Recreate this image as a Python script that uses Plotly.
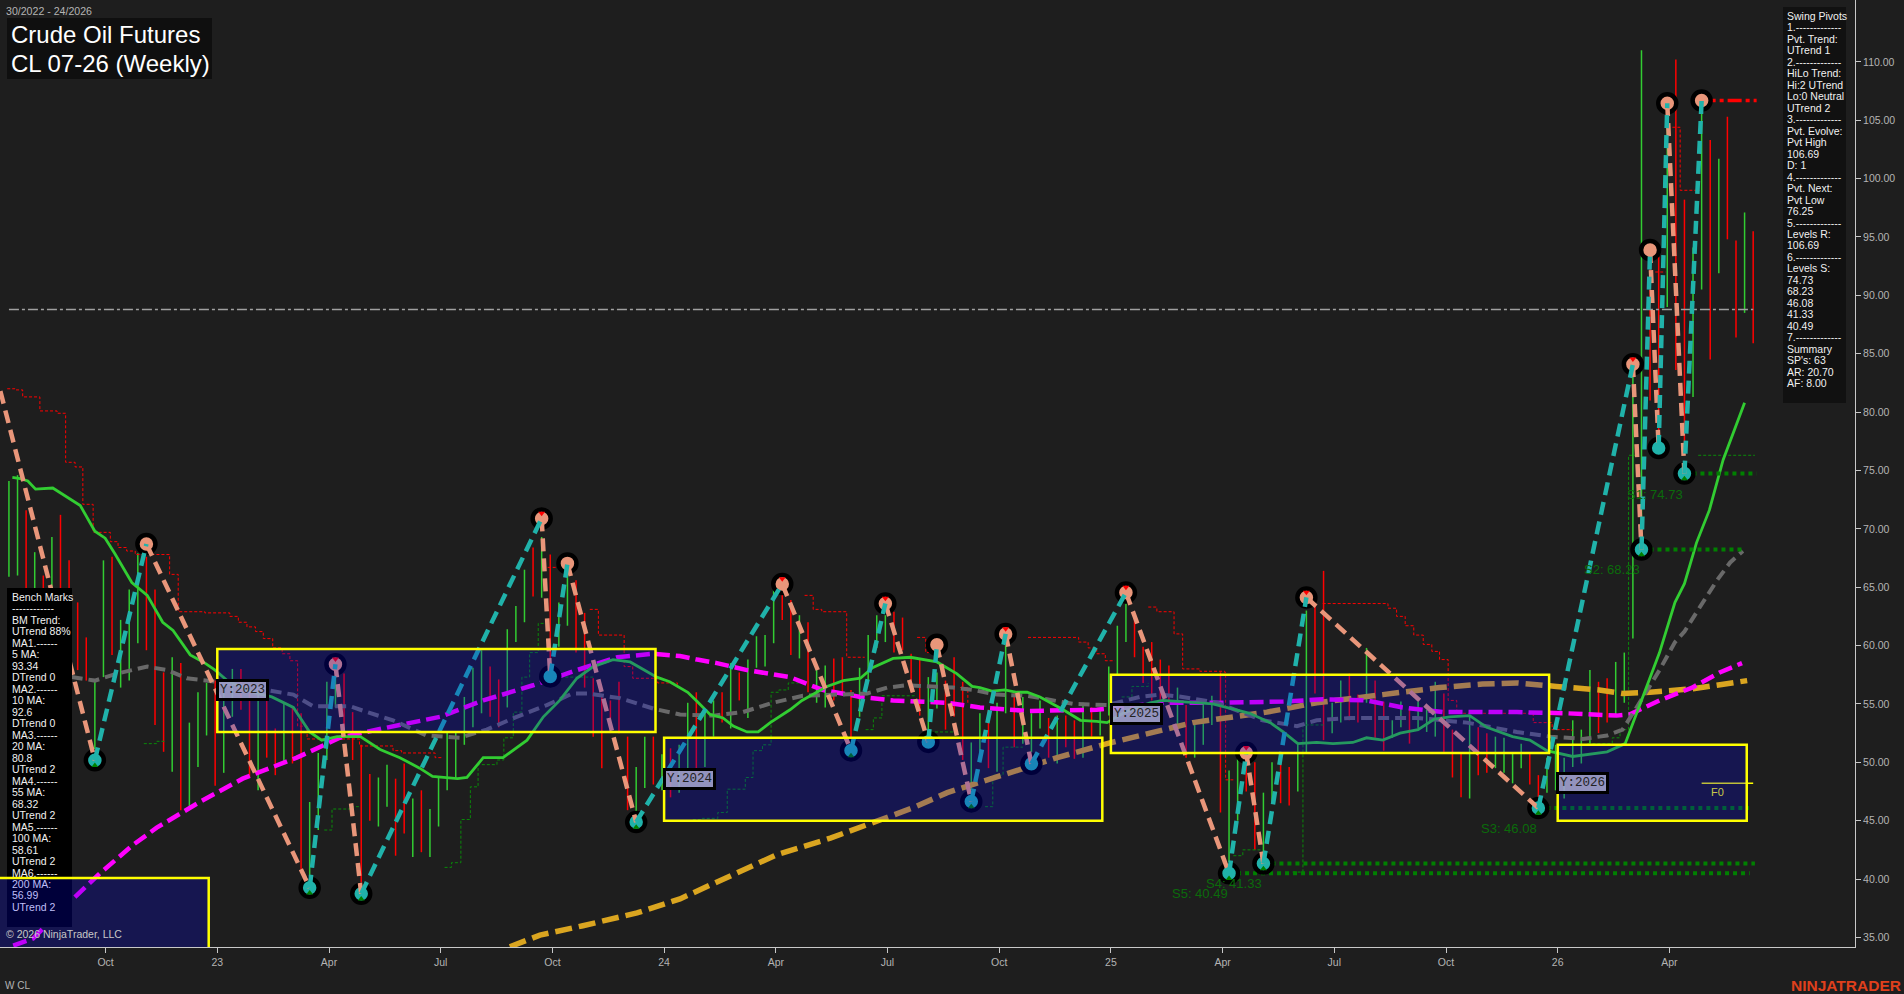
import plotly.graph_objects as go

W, H = 1904, 994
PLOT_W, PLOT_H = 1855, 947
BG = "#1e1e1e"
FIRST_BAR = -11

# ---------- weekly bars (first bar is index FIRST_BAR) ----------
bar_high = [
    74.1,74.6,71.6,68.0,66.0,69.3,71.2,67.3,63.7,60.7,
    57.0,67.3,67.6,62.2,64.8,67.9,67.6,64.8,57.7,59.0,
    58.5,53.4,56.0,56.8,57.0,57.0,58.0,58.0,56.1,56.4,
    57.0,52.9,55.1,54.7,54.2,46.6,50.8,56.9,57.6,57.6,
    54.3,51.5,49.0,48.7,49.8,48.6,49.9,46.9,47.6,46.0,
    48.7,52.6,52.6,55.6,58.1,59.6,58.2,57.1,61.4,63.4,
    66.5,68.4,69.3,67.8,63.7,66.5,65.6,62.8,57.2,55.6,
    55.3,56.9,52.2,49.6,52.2,52.2,50.7,51.2,51.5,55.1,
    56.0,54.3,55.3,56.0,58.5,57.7,58.8,60.8,60.9,64.8,
    64.5,63.9,62.6,62.0,58.1,58.3,58.9,59.0,56.2,58.1,
    60.9,62.6,62.6,62.9,62.4,59.3,58.8,57.3,57.7,57.0,
    59.0,56.9,51.7,54.2,54.5,55.1,60.6,56.0,55.6,54.2,
    55.3,53.8,54.0,54.0,53.6,55.1,54.7,54.6,58.2,61.7,
    63.6,62.4,59.9,60.3,58.8,58.3,56.4,54.9,53.2,55.3,
    55.7,57.7,49.3,50.3,51.3,50.0,47.4,50.0,50.2,49.6,
    51.7,63.0,63.6,66.4,55.1,57.0,57.6,55.8,59.8,57.0,
    55.2,53.6,55.2,54.6,55.2,54.5,56.9,55.9,52.8,50.8,
    53.9,53.0,52.5,52.2,52.1,50.8,51.6,50.8,48.9,50.4,
    51.5,50.4,53.6,52.8,57.9,56.9,57.2,58.6,59.4,83.4,
    111.0,93.3,93.3,106.5,110.2,98.2,94.1,106.7,103.3,101.7,
    105.3,94.7,97.1,95.5,
]
bar_low = [
    65.9,66.0,61.3,60.4,59.6,60.4,62.2,63.0,57.9,57.0,
    50.4,57.3,59.2,56.4,57.0,60.2,59.6,53.2,50.9,49.2,
    45.9,46.2,49.6,52.3,48.0,49.1,53.9,54.5,48.7,47.6,
    50.4,48.9,49.9,49.9,40.8,39.7,44.2,50.2,54.7,52.5,
    50.2,38.8,45.0,44.5,46.2,42.0,43.9,41.9,42.3,41.9,
    44.5,47.6,48.6,51.5,53.0,54.2,53.9,53.0,54.7,60.3,
    62.0,64.2,64.1,58.2,59.9,61.7,59.4,56.4,52.2,49.5,
    52.5,52.5,45.9,45.3,47.8,48.1,47.6,47.0,47.4,49.5,
    48.7,49.6,52.2,53.4,52.9,55.3,53.8,58.1,58.2,60.2,
    62.2,59.2,58.9,56.0,55.1,54.7,55.3,56.0,52.1,53.9,
    56.8,59.8,60.3,59.4,59.6,56.0,54.0,52.5,54.6,52.8,
    53.9,50.2,47.6,50.0,49.5,49.2,54.2,51.3,51.6,50.9,
    52.9,50.4,49.9,51.3,50.3,50.4,52.2,52.3,54.0,57.5,
    60.3,59.0,56.8,55.3,55.1,55.1,53.2,50.4,50.4,51.5,
    53.2,45.7,41.4,45.0,47.5,42.5,41.9,46.5,46.5,46.3,
    47.5,50.8,55.9,51.9,52.5,53.4,53.6,53.4,55.1,52.1,
    51.0,52.1,53.0,51.6,52.9,52.6,52.2,50.9,48.7,47.0,
    46.9,48.9,49.1,49.5,49.1,48.2,49.5,48.1,47.0,47.4,
    47.6,46.9,49.6,49.9,51.6,52.5,53.4,54.0,55.1,60.6,
    69.0,81.0,77.8,89.0,83.6,76.5,81.3,90.5,84.5,91.9,
    94.8,86.4,88.5,85.9,
]
bar_dir = (
    "GGRGRGRRRR" "GGRGGGRRRG" "RGGGRGGRRG" "RRGRRGGGGR"
    "RRRGGRRGRG" "GGGGGGRRGG" "GRGRGGRRRR" "RRRGGRGRGG"
    "RGGRGRGGGG" "RRGRGGRRRG" "GGGRRRRGGR" "RRGGRGGRGG"
    "GRGRRGRGGG" "GRRRRRGRGG" "GRGGRRGGRR" "GGRRGGRRGR"
    "RGGRGGGRRR" "GRRGGGGRRG" "GGGGGRRGGG" "GRRGRRGGRG"
    "RRGR"
)

# ---------- swing pivots (alternate high / low, first one is a high) ----------
piv_idx = [-12,-1,5,24,27,30,51,52,54,62,79,87,91,96,97,101,105,108,119,131,133,135,140,167,178,179,180,181,182,184,186]
piv_price = [81.8,50.18,68.7,39.26,58.4,38.74,70.89,57.36,67.04,44.88,65.27,51.02,63.6,51.75,60.07,46.65,61.0,49.87,64.54,40.49,50.81,41.33,64.12,46.08,84.1,68.23,93.88,76.92,106.46,74.73,106.69]
tri_high_idx = [27,51,79,91,105,119,133,140,178]
tri_low_idx = [-1,24,30,62,87,101,131,135,167,179,184]

# ---------- moving averages ----------
ma20_x = [-10.6,-9.7,-8.8,-7.9,-5.9,-3.9,-2.7,-1.0,0.2,1.3,3.3,5.1,6.9,8.1,10.1,11.6,13.0,14.4,17.4,19.6,22.1,24.0,25.4,27.2,29.9,32.2,34.5,36.8,38.3,41.2,42.3,44.2,46.5,49.3,51.2,53.1,55.1,57.0,59.3,61.3,64.4,65.9,68.0,69.1,70.6,72.1,73.3,74.9,76.2,77.6,79.9,81.3,84.2,86.1,88.1,89.5,91.9,93.9,97.0,99.3,101.1,102.0,103.4,104.9,106.3,107.5,109.0,111.7,113.7,115.6,116.8,118.9,121.8,123.3,129.1,133.4,135.8,137.3,139.0,141.2,143.1,145.4,147.0,148.9,150.9,153.0,154.9,156.7,159.0,161.0,164.0,166.0,168.0,171.0,175.0,177.1,181.1,182.9,184.0,185.4,186.9,188.5,190.2,191.0]
ma20_y = [74.4,74.3,74.1,73.4,73.5,72.6,72.0,69.8,69.2,67.9,65.4,64.3,62.0,61.3,59.2,58.6,57.9,57.0,56.0,55.6,54.7,52.6,51.9,52.2,52.2,51.1,50.4,49.5,48.8,48.6,48.7,50.4,50.4,51.9,53.9,55.3,57.2,58.2,58.8,58.6,57.3,56.9,56.0,55.2,54.1,53.8,53.1,52.6,52.6,53.4,54.5,55.3,56.5,57.0,57.2,58.1,58.9,59.0,58.6,57.6,56.5,56.4,56.1,56.2,56.0,56.0,55.6,54.5,53.6,53.5,53.4,54.3,55.1,55.3,55.0,54.2,53.4,52.6,51.6,51.7,51.6,51.7,52.1,51.9,52.5,52.8,53.7,53.9,54.0,53.0,52.2,51.9,51.0,50.5,50.9,51.6,59.4,63.7,65.3,68.8,71.6,75.9,79.3,80.8]
ma55_x = [-3.7,-1.0,1.6,5.1,7.4,9.7,13.2,19.0,22.1,24.4,26.7,28.7,30.7,33.7,37.6,41.5,44.6,48.1,51.6,54.6,56.3,60.1,64.0,67.1,71.0,74.4,77.9,81.4,85.4,88.9,91.2,93.5,98.9,101.2,104.0,107.5,109.8,112.9,116.8,120.6,123.0,125.6,129.6,132.6,134.9,138.9,141.2,145.1,152.9,158.7,164.5,168.4,172.2,175.0,176.8,179.2,181.1,182.9,184.0,185.8,187.8,189.3,190.8]
ma55_y = [57.3,57.0,57.6,58.2,57.9,57.2,56.9,56.2,55.8,54.8,54.8,54.8,54.3,53.6,52.3,52.1,52.8,53.9,54.9,55.9,55.9,55.5,54.6,54.1,54.0,54.3,55.1,55.7,55.8,55.9,56.4,56.6,56.4,56.2,55.8,55.7,55.4,55.0,54.9,55.6,55.8,55.6,55.1,54.3,53.6,53.1,53.6,53.8,53.8,53.4,52.6,52.2,52.0,52.3,52.8,55.6,57.9,60.3,61.2,63.3,65.6,67.1,68.1]
ma100_x = [-10.5,-8.2,-3.7,-0.4,3.4,6.2,11.2,16.2,22.5,27.5,32.5,39.2,44.2,50.0,55.1,59.8,64.0,67.1,69.1,71.4,74.9,79.9,83.7,88.1,91.9,98.2,102.0,107.5,115.6,123.3,129.6,137.3,141.9,147.0,151.2,155.9,164.5,170.3,176.1,177.6,181.1,184.9,188.1,190.7]
ma100_y = [34.3,34.9,38.2,40.5,42.9,44.4,46.6,48.6,50.4,52.1,52.9,53.9,55.3,56.6,57.9,59.0,59.3,59.1,58.8,58.5,57.9,57.3,56.2,55.6,55.3,55.1,54.7,54.4,54.5,55.1,55.1,55.2,55.4,55.3,54.7,54.3,54.3,54.2,54.0,54.1,55.3,56.4,57.7,58.5]
ma200_x = [47.3,50.8,55.8,62.1,67.1,72.8,78.4,84.6,90.0,94.2,98.2,102.0,105.9,111.0,116.8,121.8,126.8,135.4,141.2,148.9,155.5,160.5,164.5,169.1,174.1,176.8,180.0,185.0,188.1,191.3]
ma200_y = [34.2,35.2,36.0,37.1,38.3,40.2,42.1,43.5,44.9,46.1,47.4,48.3,49.3,50.4,51.6,52.5,53.4,54.3,55.1,55.8,56.4,56.7,56.8,56.5,56.2,55.9,56.0,56.3,56.6,57.0]

# ---------- thin stepped swing lines (None breaks a run) ----------
red_step_x = [-11.2,-10.3,-9.4,-7.4,-5.4,-4.4,-3.3,-2.4,-1.2,0.8,1.7,2.7,3.7,7.7,8.7,11.8,14.7,15.7,16.7,17.7,18.6,19.7,20.8,21.7,22.6,23.7,29.8,33.7,34.7,38.6,39.5,None,
              51.7,54.1,None,56.6,57.6,60.6,61.6,64.5,66.8,None,81.6,82.6,83.6,86.5,88.6,None,94.7,95.7,97.1,None,99.7,100.6,None,
              107.6,112.5,113.5,114.6,115.6,116.6,117.7,None,121.6,122.6,124.6,125.6,127.6,130.5,130.6,131.5,None,
              141.9,149.5,150.5,151.5,152.5,153.6,154.6,155.5,156.5,157.5,166.4,168.6,170.9,None,180.6,181.8,None,182.6,183.5,185.8]
red_step_y = [82.0,81.9,81.3,80.1,79.9,75.7,75.3,72.1,69.7,68.9,68.4,68.1,67.8,66.1,62.9,62.8,62.5,62.0,61.6,61.2,60.6,59.8,59.3,58.7,53.1,52.0,51.4,51.0,50.8,50.4,50.4,None,
              66.7,66.7,None,63.1,60.9,58.2,57.2,56.8,56.4,None,64.3,63.1,62.9,59.0,59.0,None,60.7,59.4,59.4,None,56.4,55.1,None,
              60.7,60.7,60.3,59.8,59.3,58.7,58.7,None,63.3,62.9,61.0,58.0,57.8,57.7,48.5,48.5,None,
              63.6,63.2,62.5,61.7,60.9,60.1,59.5,58.8,55.3,54.2,53.4,52.8,52.7,None,92.0,92.0,None,104.4,99.0,99.0]
green_step_x = [4.7,6.2,7.2,None,25.7,26.6,28.7,29.9,None,39.7,40.5,41.6,42.7,43.6,45.8,46.6,47.7,48.7,49.6,50.6,51.7,None,52.0,57.0,None,
                68.6,69.7,71.5,72.6,74.7,75.6,76.7,77.7,78.6,79.7,81.6,None,88.7,89.6,90.6,94.4,None,96.2,99.3,None,
                102.6,103.5,104.7,107.0,None,118.5,119.7,121.6,None,131.5,132.6,134.9,None,138.4,139.6,142.1,None,
                170.7,172.1,None,172.7,175.6,176.5,177.5,178.3,None,185.6,192.2]
green_step_y = [51.6,51.8,51.8,None,44.2,46.0,46.2,46.2,None,41.0,41.4,45.1,47.9,49.8,50.2,52.1,54.3,57.3,59.4,61.9,61.9,None,57.3,57.3,None,
                45.1,45.2,45.7,47.7,48.7,51.0,51.5,56.0,56.2,56.8,57.0,None,52.8,53.8,55.7,55.9,None,52.6,52.6,None,
                46.2,48.9,51.3,51.3,None,55.6,56.5,56.8,None,42.0,42.5,42.5,None,40.6,53.2,53.3,None,
                47.4,47.4,None,51.6,52.1,52.8,76.3,76.3,None,76.3,76.3]

# ---------- levels ----------
level_names = ["S1: 74.73","S2: 68.23","S3: 46.08","S4: 41.33","S5: 40.49"]
level_price = [74.73,68.23,46.08,41.33,40.49]
level_start = [184,179,167,135,131]
level_end = [192.4,191.0,191.5,192.2,191.6]
resist_price = 106.69
resist_span = [186,192.4]
mid_price = 88.78
mid_span = [-11,192]
fib_price = 48.2
fib_span = [186,192]

# ---------- yearly boxes ----------
box_names = ["", "Y:2023","Y:2024","Y:2025","Y:2026"]
box_left = [-14,13.25,65.25,117.25,169.25]
box_right = [12.25,64.25,116.25,168.25,191.25]
box_top = [40.1,59.7,52.1,57.5,51.5]
box_bottom = [34.0,52.6,45.0,50.8,45.0]
box_label_price = [None,56.2,48.6,54.1,48.2]

# ---------- axes ----------
x_tick_labels = ["Oct","23","Apr","Jul","Oct","24","Apr","Jul","Oct","25","Apr","Jul","Oct","26","Apr"]
x_tick_first = 0.25
x_tick_step = 13
y_ticks = [35,40,45,50,55,60,65,70,75,80,85,90,95,100,105,110]

# ---------- text panels ----------
swing_lines = ["Swing Pivots","1.-------------","Pvt. Trend:","UTrend 1","2.-------------","HiLo Trend:","Hi:2 UTrend","Lo:0 Neutral","UTrend 2",
               "3.-------------","Pvt. Evolve:","Pvt High","106.69","D: 1","4.-------------","Pvt. Next:","Pvt Low","76.25","5.-------------",
               "Levels R:","106.69","6.-------------","Levels S:","74.73","68.23","46.08","41.33","40.49","7.-------------","Summary","SP's: 63","AR: 20.70","AF: 8.00"]
bench_lines = ["Bench Marks","------------","BM Trend:","UTrend 88%","MA1.------","5 MA:","93.34","DTrend 0","MA2.------","10 MA:","92.6","DTrend 0",
               "MA3.------","20 MA:","80.8","UTrend 2","MA4.------","55 MA:","68.32","UTrend 2","MA5.------","100 MA:","58.61","UTrend 2",
               "MA6.------","200 MA:","56.99","UTrend 2"]


def px(x):
    return x / PLOT_W


def py(y):
    return 1 - y / PLOT_H


fig = go.Figure()

# bars
for key, color in (("G", "#32cd32"), ("R", "#ff0000")):
    xs, ys = [], []
    for k, (hi, lo, d) in enumerate(zip(bar_high, bar_low, bar_dir)):
        if d == key:
            xs += [FIRST_BAR + k, FIRST_BAR + k, None]
            ys += [hi, lo, None]
    fig.add_trace(go.Scatter(x=xs, y=ys, mode="lines", line=dict(color=color, width=1.5)))

# stepped lines
fig.add_trace(go.Scatter(x=green_step_x, y=green_step_y, mode="lines", connectgaps=False,
                         line=dict(color="#0a8a0a", width=1, shape="hv", dash="3px,2px")))
fig.add_trace(go.Scatter(x=red_step_x, y=red_step_y, mode="lines", connectgaps=False,
                         line=dict(color="#ff0000", width=1, shape="hv", dash="3px,2px")))

# mid line
fig.add_trace(go.Scatter(x=mid_span, y=[mid_price, mid_price], mode="lines",
                         line=dict(color="#a0a0a0", width=1.5, dash="10px,3px,3px,3px")))

# moving averages
fig.add_trace(go.Scatter(x=ma200_x, y=ma200_y, mode="lines", line=dict(color="#daa520", width=5.5, dash="17px,7px")))
fig.add_trace(go.Scatter(x=ma100_x, y=ma100_y, mode="lines", line=dict(color="#ff00ff", width=4.5, dash="14px,6px")))
fig.add_trace(go.Scatter(x=ma55_x, y=ma55_y, mode="lines", line=dict(color="#696969", width=4, dash="11px,6px")))
fig.add_trace(go.Scatter(x=ma20_x, y=ma20_y, mode="lines", line=dict(color="#32cd32", width=2.8)))

# levels
for price, start, end in zip(level_price, level_start, level_end):
    fig.add_trace(go.Scatter(x=[start, end], y=[price, price], mode="lines",
                             line=dict(color="#008000", width=4, dash="4px,4px")))
fig.add_trace(go.Scatter(x=resist_span, y=[resist_price, resist_price], mode="lines",
                         line=dict(color="#ff0000", width=3.5, dash="14px,4px,4px,4px")))
fig.add_trace(go.Scatter(x=fib_span, y=[fib_price, fib_price], mode="lines",
                         line=dict(color="#ffff00", width=1.5)))

# pivot circles
high_x = piv_idx[2::2]
high_y = piv_price[2::2]
low_x = piv_idx[1::2]
low_y = piv_price[1::2]
fig.add_trace(go.Scatter(x=high_x, y=high_y, mode="markers",
                         marker=dict(size=18, color="#e9967a", line=dict(color="#000000", width=4.5))))
fig.add_trace(go.Scatter(x=low_x, y=low_y, mode="markers",
                         marker=dict(size=18, color="#20b2aa", line=dict(color="#000000", width=4.5))))

# pivot legs
down_x, down_y, up_x, up_y = [], [], [], []
for k in range(len(piv_idx) - 1):
    seg_x = [piv_idx[k], piv_idx[k + 1], None]
    seg_y = [piv_price[k], piv_price[k + 1], None]
    if k % 2 == 0:
        down_x += seg_x
        down_y += seg_y
    else:
        up_x += seg_x
        up_y += seg_y
fig.add_trace(go.Scatter(x=down_x, y=down_y, mode="lines", line=dict(color="#e9967a", width=4.5, dash="13px,7px")))
fig.add_trace(go.Scatter(x=up_x, y=up_y, mode="lines", line=dict(color="#20b2aa", width=4.5, dash="13px,7px")))

# pivot triangles
price_of = dict(zip(piv_idx, piv_price))
fig.add_trace(go.Scatter(x=tri_high_idx, y=[price_of[i] + 0.45 for i in tri_high_idx], mode="markers",
                         marker=dict(symbol="triangle-down", size=6, color="#ff0000")))
fig.add_trace(go.Scatter(x=tri_low_idx, y=[price_of[i] - 0.45 for i in tri_low_idx], mode="markers",
                         marker=dict(symbol="triangle-up", size=6, color="#008000")))

shapes = [
    dict(type="rect", xref="paper", yref="paper", x0=px(7), x1=px(212), y0=py(18), y1=py(79),
         fillcolor="#0f0f0f", line=dict(width=0), layer="above"),
    dict(type="rect", xref="paper", yref="paper", x0=px(1783), x1=px(1846), y0=py(7), y1=py(403),
         fillcolor="#111111", line=dict(width=0), layer="above"),
    dict(type="rect", xref="paper", yref="paper", x0=px(7), x1=px(72), y0=py(588), y1=py(927),
         fillcolor="#000000", line=dict(width=0), layer="above"),
]
for left, right, top, bottom in zip(box_left, box_right, box_top, box_bottom):
    shapes.append(dict(type="rect", xref="x", yref="y", x0=left, x1=right, y0=bottom, y1=top,
                       fillcolor="rgba(0,0,230,0.25)", line=dict(color="#ffff00", width=2.5), layer="above"))

ann = []


def text(x, y, s, size=10.5, color="#f0f0f0", family="Liberation Sans", **kw):
    ann.append(dict(xref="paper", yref="paper", x=px(x), y=py(y), text=s, showarrow=False,
                    xanchor=kw.pop("xanchor", "left"), yanchor="middle", borderpad=0,
                    font=dict(size=size, color=color, family=family), **kw))


text(5, 11, "30/2022 - 24/2026", size=10.6, color="#b4b4b4")
text(10, 35, "Crude Oil Futures", size=24, color="#ffffff")
text(10, 63, "CL 07-26 (Weekly)", size=24, color="#ffffff")
for n, s in enumerate(swing_lines):
    text(1786, 15.7 + 11.49 * n, s)
for n, s in enumerate(bench_lines):
    y = 597 + 11.48 * n
    text(10.5, y, s, color="#bfbff8" if y > 878 else "#f0f0f0")
text(5, 934, "\u00a9 2026 NinjaTrader, LLC", size=10.5, color="#c8c8c8")
text(4, 985, "W CL", size=10, color="#b4b4b4")
text(1902, 985, "<b>NINJATRADER</b>", size=15.5, color="#e0401c", xanchor="right")

for name, price, start in zip(level_names, level_price, level_start):
    ann.append(dict(xref="x", yref="y", x=start, y=price - 1.75, text=name, showarrow=False,
                    xanchor="right", yanchor="middle", borderpad=0,
                    font=dict(size=13, color="#0b6b0b", family="Liberation Sans")))
ann.append(dict(xref="x", yref="y", x=187, y=fib_price - 0.12, text="F0", showarrow=False,
                xanchor="left", yanchor="top", borderpad=0,
                font=dict(size=11, color="#c9c94a", family="Liberation Sans")))
for name, left, price in zip(box_names, box_left, box_label_price):
    if name:
        ann.append(dict(xref="x", yref="y", x=left - 0.15, y=price, text=name, showarrow=False, xanchor="left",
                        yanchor="middle", bgcolor="rgba(165,165,205,0.88)", bordercolor="#000000",
                        borderwidth=3, borderpad=1,
                        font=dict(size=12.5, color="#222222", family="Liberation Mono")))

fig.update_layout(
    width=W, height=H, autosize=False,
    paper_bgcolor=BG, plot_bgcolor=BG,
    margin=dict(l=0, r=W - PLOT_W, t=0, b=H - PLOT_H, pad=0),
    showlegend=False, hovermode=False,
    shapes=shapes, annotations=ann,
    xaxis=dict(range=[-12.04, 203.85], tickmode="array",
               tickvals=[x_tick_first + x_tick_step * n for n in range(len(x_tick_labels))],
               ticktext=x_tick_labels, ticks="outside", ticklen=5, tickcolor="#c8c8c8",
               tickfont=dict(size=10.5, color="#b4b4b4", family="Liberation Sans"),
               showgrid=False, zeroline=False, showline=True, linecolor="#c8c8c8", linewidth=1),
    yaxis=dict(range=[34.18, 115.3], side="right", tickmode="array", tickvals=y_ticks,
               ticktext=[f"{v:.2f}" for v in y_ticks], ticks="outside", ticklen=5, tickcolor="#c8c8c8",
               tickfont=dict(size=10.5, color="#b4b4b4", family="Liberation Sans"),
               showgrid=False, zeroline=False, showline=True, linecolor="#c8c8c8", linewidth=1),
)

fig.write_html("out.html", config={"displayModeBar": False},
               post_script="document.body.style.margin='0';document.body.style.overflow='hidden';")
